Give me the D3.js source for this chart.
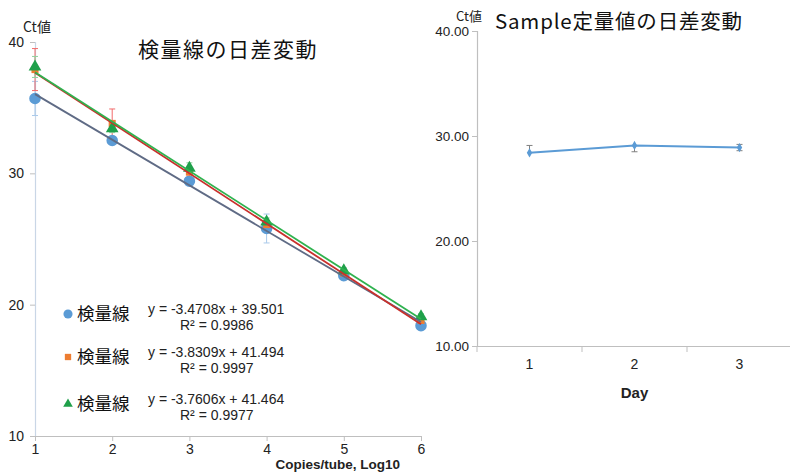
<!DOCTYPE html>
<html><head><meta charset="utf-8">
<script src="https://cdn.jsdelivr.net/npm/d3@7"></script>
<style>body{margin:0;background:#fff}svg{display:block}</style>
</head><body>
<script>
// ---- data: left chart (calibration curves) ----
const copiesLog = [1, 2, 3, 4, 5, 6];
const seriesNames = ["検量線", "検量線", "検量線"];
const ctBlue   = [35.7, 32.5, 29.4, 25.8, 22.2, 18.4];
const ctOrange = [37.9, 33.8, 30.1, 26.1, 22.4, 18.8];
const ctGreen  = [38.1, 33.4, 30.4, 26.3, 22.6, 19.1];
const errBlue   = [1.3, 0.3, 0.2, 1.1, 0.2, 0.2];
const errOrange = [1.6, 1.1, 0.3, 0.3, 0.2, 0.2];
const errGreen  = [0.8, 0.3, 0.4, 0.3, 0.2, 0.2];
const slopes     = [-3.4708, -3.8309, -3.7606];
const intercepts = [39.501, 41.494, 41.464];
const eqLabels = ["y = -3.4708x + 39.501", "y = -3.8309x + 41.494", "y = -3.7606x + 41.464"];
const r2Labels = ["R² = 0.9986", "R² = 0.9997", "R² = 0.9977"];
const leftYTicks = [10, 20, 30, 40];
// ---- data: right chart (sample) ----
const days = ["1", "2", "3"];
const sampleCt = [28.4, 29.1, 28.9];
const samplePlus = [0.7, 0, 0.3];
const sampleMinus = [0, 0.6, 0.3];
const rightYTicks = [10, 20, 30, 40];

const W = 790, H = 475;
const svg = d3.select("body").append("svg").attr("width", W).attr("height", H);
const jp = "'Noto Sans CJK JP', sans-serif";
const lat = "'Liberation Sans', Arial, sans-serif";

// ===== Left chart =====
const x = d3.scaleLinear().domain([1, 6]).range([35, 421]);
const y = d3.scaleLinear().domain([10, 40]).range([436, 42]);
const L = svg.append("g");

const yAx = L.append("g").attr("transform", "translate(35,0)")
  .call(d3.axisLeft(y).tickValues(leftYTicks).tickSize(5).tickPadding(6).tickFormat(d3.format("d")));
yAx.select(".domain").attr("stroke", "#c9d6e6").attr("stroke-width", 1.2);
yAx.selectAll(".tick line").attr("stroke", "#bfbfbf");
yAx.selectAll("text").attr("font-family", lat).attr("font-size", 14).attr("fill", "#222");

const xAx = L.append("g").attr("transform", "translate(0,436)")
  .call(d3.axisBottom(x).tickValues(copiesLog).tickSize(5).tickPadding(3).tickSizeOuter(0).tickFormat(d3.format("d")));
xAx.select(".domain").attr("stroke", "#bfbfbf").attr("stroke-width", 1.2);
xAx.selectAll(".tick line").attr("stroke", "#bfbfbf");
xAx.selectAll("text").attr("font-family", lat).attr("font-size", 14).attr("fill", "#222");

L.append("text").attr("x", 400).attr("y", 469).attr("text-anchor", "end")
  .attr("font-family", lat).attr("font-weight", "bold").attr("font-size", 13.5).attr("fill", "#222")
  .text("Copies/tube, Log10");
L.append("text").attr("x", 37).attr("y", 32).attr("text-anchor", "middle")
  .attr("font-family", jp).attr("font-size", 14).attr("fill", "#222").text("Ct値");
L.append("text").attr("x", 228).attr("y", 57).attr("text-anchor", "middle")
  .attr("font-family", jp).attr("font-size", 21).attr("fill", "#111").attr("letter-spacing", 1.5)
  .text("検量線の日差変動");

const series = [
  {v: ctBlue, e: errBlue, color: "#5b9bd5", errColor: "#a9c9ea", trend: "#5f6b85", shape: d3.symbolCircle, size: 105},
  {v: ctOrange, e: errOrange, color: "#ed7d31", errColor: "#f26b6b", trend: "#c9302c", shape: d3.symbolSquare, size: 50},
  {v: ctGreen, e: errGreen, color: "#1fa04a", errColor: "#8fd19e", trend: "#2fb24f", shape: d3.symbolTriangle, size: 70}
];

series.forEach(s => {
  const g = L.append("g");
  copiesLog.forEach((c, i) => {
    const cx = x(c), y1 = y(s.v[i] + s.e[i]), y2 = y(s.v[i] - s.e[i]);
    g.append("line").attr("x1", cx).attr("x2", cx).attr("y1", y1).attr("y2", y2).attr("stroke", s.errColor).attr("stroke-width", 1);
    [y1, y2].forEach(yy => g.append("line").attr("x1", cx - 3).attr("x2", cx + 3).attr("y1", yy).attr("y2", yy).attr("stroke", s.errColor).attr("stroke-width", 1));
  });
});
series.forEach(s => {
  L.append("g").selectAll("path").data(s.v).join("path")
    .attr("transform", (d, i) => `translate(${x(copiesLog[i])},${y(d)})`)
    .attr("d", d3.symbol().type(s.shape).size(s.size))
    .attr("fill", s.color);
});
series.forEach((s, k) => {
  const xs = [1, 6];
  L.append("line")
    .attr("x1", x(xs[0])).attr("y1", y(slopes[k] * xs[0] + intercepts[k]))
    .attr("x2", x(xs[1])).attr("y2", y(slopes[k] * xs[1] + intercepts[k]))
    .attr("stroke", s.trend).attr("stroke-width", 1.8);
});
const legY = [320, 363, 410];
series.forEach((s, k) => {
  const g = L.append("g").attr("transform", `translate(0,${legY[k]})`);
  g.append("path").attr("transform", "translate(68,-6)")
    .attr("d", d3.symbol().type(s.shape).size(k === 0 ? 65 : 40)).attr("fill", s.color);
  g.append("text").attr("x", 77).attr("y", 0).attr("font-family", jp).attr("font-size", 17.5).attr("fill", "#111").text(seriesNames[k]);
  g.append("text").attr("x", 148).attr("y", -6).attr("font-family", lat).attr("font-size", 14).attr("fill", "#222").text(eqLabels[k]);
  g.append("text").attr("x", 180).attr("y", 10).attr("font-family", lat).attr("font-size", 14).attr("fill", "#222").text(r2Labels[k]);
});

// ===== Right chart =====
const xr = d3.scaleBand().domain(days).range([477, 792]);
const yr = d3.scaleLinear().domain([10, 40]).range([346, 31]);
const R = svg.append("g");

const yrAx = R.append("g").attr("transform", "translate(477,0)")
  .call(d3.axisLeft(yr).tickValues(rightYTicks).tickSize(5).tickPadding(3).tickFormat(d3.format(".2f")));
yrAx.select(".domain").attr("stroke", "#bfbfbf").attr("stroke-width", 1.2);
yrAx.selectAll(".tick line").attr("stroke", "#bfbfbf");
yrAx.selectAll("text").attr("font-family", lat).attr("font-size", 13.5).attr("fill", "#222");

const xrAx = R.append("g").attr("transform", "translate(0,346)")
  .call(d3.axisBottom(xr).tickSize(0).tickPadding(13));
xrAx.select(".domain").attr("stroke", "#bfbfbf").attr("stroke-width", 1.2);
xrAx.selectAll("text").attr("font-family", lat).attr("font-size", 14).attr("fill", "#222");
R.append("g").selectAll("line").data(days).join("line")
  .attr("x1", d => xr(d)).attr("x2", d => xr(d)).attr("y1", 346).attr("y2", 352)
  .attr("stroke", "#bfbfbf");

R.append("text").attr("x", xr("2") + xr.bandwidth() / 2).attr("y", 398).attr("text-anchor", "middle")
  .attr("font-family", lat).attr("font-weight", "bold").attr("font-size", 15).attr("fill", "#222").text("Day");
R.append("text").attr("x", 469).attr("y", 21).attr("text-anchor", "middle")
  .attr("font-family", jp).attr("font-size", 13).attr("fill", "#222").text("Ct値");
R.append("text").attr("x", 495).attr("y", 29)
  .attr("font-family", jp).attr("font-size", 20.5).attr("fill", "#111").attr("letter-spacing", 0.8)
  .text("Sample定量値の日差変動");

const cxr = d => xr(d) + xr.bandwidth() / 2;
const line = d3.line().x((d, i) => cxr(days[i])).y(d => yr(d));
R.append("path").datum(sampleCt).attr("d", line).attr("fill", "none").attr("stroke", "#5b9bd5").attr("stroke-width", 2);
days.forEach((d, i) => {
  const cx = cxr(d), y1 = yr(sampleCt[i] + samplePlus[i]), y2 = yr(sampleCt[i] - sampleMinus[i]);
  R.append("line").attr("x1", cx).attr("x2", cx).attr("y1", y1).attr("y2", y2).attr("stroke", "#808080").attr("stroke-width", 1);
  if (samplePlus[i] > 0) R.append("line").attr("x1", cx - 3).attr("x2", cx + 3).attr("y1", y1).attr("y2", y1).attr("stroke", "#808080");
  if (sampleMinus[i] > 0) R.append("line").attr("x1", cx - 3).attr("x2", cx + 3).attr("y1", y2).attr("y2", y2).attr("stroke", "#808080");
});
R.append("g").selectAll("path").data(sampleCt).join("path")
  .attr("transform", (d, i) => `translate(${cxr(days[i])},${yr(d)})`)
  .attr("d", d3.symbol().type(d3.symbolDiamond).size(25)).attr("fill", "#5b9bd5");
</script>
</body></html>
